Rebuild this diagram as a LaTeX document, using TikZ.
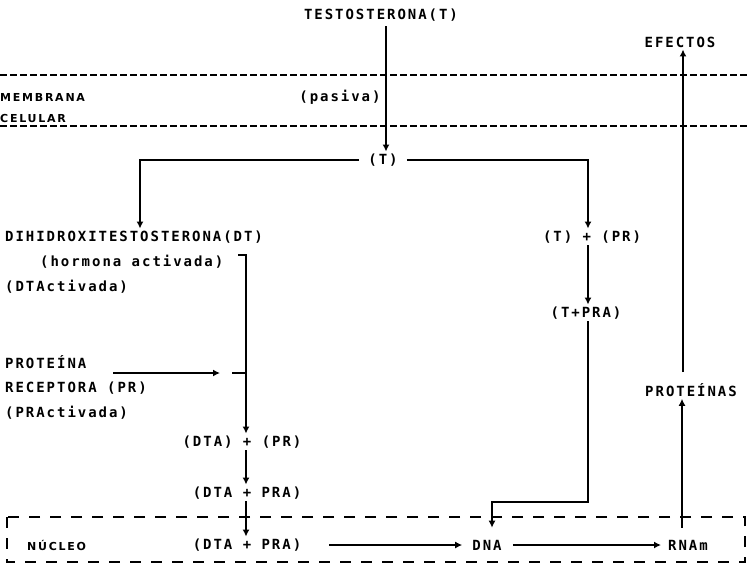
\documentclass[tikz,border=0pt]{standalone}
\usepackage{fontspec}
\usetikzlibrary{arrows.meta}
\newfontfamily\dmono[LetterSpace=14, UprightFont=* Bold, BoldFont=* Bold]{DejaVu Sans Mono}
\newfontfamily\dsmall[LetterSpace=16, UprightFont=* Bold, BoldFont=* Bold]{DejaVu Sans}
\begin{document}
\begin{tikzpicture}[x=1pt,y=-1pt,
  txt/.style={font=\dmono\fontsize{14}{16}\selectfont, inner sep=2pt},
  sm/.style={font=\dsmall\fontsize{11}{13}\selectfont, inner sep=0pt, anchor=west},
  arr/.style={line width=1.8pt, -{Latex[length=7pt,width=7pt]}},
  ln/.style={line width=1.8pt},
  mem/.style={line width=1.6pt, dash pattern=on 7pt off 3pt},
  nucbox/.style={line width=1.5pt, dash pattern=on 11pt off 10pt}]
\useasboundingbox (0,0) rectangle (749,571);

% membrane
\draw[mem] (0,75) -- (749,75);
\draw[mem] (0,126) -- (749,126);
% nucleus box
\draw[nucbox] (7,517) rectangle (745,562);

% nodes
\node[txt] (t0) at (381,15) {TESTOSTERONA(T)};
\node[txt, inner xsep=9pt] (t1) at (383,160) {(T)};
\node[txt] (pas) at (340,97) {(pasiva)};
\node[sm] (mem) at (0,97) {MEMBRANA};
\node[sm] (cel) at (0,118) {CELULAR};
\node[txt] (efe) at (680,42) {EFECTOS};
\node[txt,anchor=west] (dt) at (3,237) {DIHIDROXITESTOSTERONA(DT)};
\node[txt,anchor=west] (ha) at (38,262) {(hormona activada)};
\node[txt,anchor=west] (dta) at (3,287) {(DTActivada)};
\node[txt] (tpr) at (592,237) {(T) + (PR)};
\node[txt] (tpra) at (586,313) {(T+PRA)};
\node[txt,anchor=west] (prot) at (3,362) {PROTEÍNA};
\node[txt,anchor=west] (rec) at (3,388) {RECEPTORA (PR)};
\node[txt,anchor=west] (pract) at (3,413) {(PRActivada)};
\node[txt] (dpr) at (242,442) {(DTA) + (PR)};
\node[txt] (dpra) at (247,493) {(DTA + PRA)};
\node[sm] (nuc) at (27,545) {NÚCLEO};
\node[txt] (ndpra) at (247,545) {(DTA + PRA)};
\node[txt] (dna) at (487,545) {DNA};
\node[txt] (rna) at (688,545) {RNAm};
\node[txt] (prots) at (691,390) {PROTEÍNAS};

% helper coordinates
\coordinate (ax) at (386,0);
\coordinate (cl) at (140,160);
\coordinate (cr) at (588,160);
\coordinate (vx) at (246,255);
\coordinate (bk) at (238,255);
\coordinate (pa) at (113,373);
\coordinate (pb) at (220,373);
\coordinate (ps) at (232,373);
\coordinate (cd) at (492,502);
\coordinate (tr) at (588,502);
\coordinate (px) at (682,0);
\coordinate (ex) at (683,0);

% connectors
\draw[arr, shorten <=3pt] (t0.south -| ax) -- (t1.north -| ax);
\draw[arr] (t1.west) -- (cl) -- (dt.north -| cl);
\draw[arr] (t1.east) -- (cr) -- (tpr.north -| cr);
\draw[arr] (tpr.south -| cr) -- (tpra.north -| cr);
\draw[arr, shorten >=10pt] (tpra.south -| cr) -- (tr) -- (cd) -- (dna.north -| cd);
\draw[arr] (bk) -- (vx) -- (dpr.north -| vx);
\draw[arr] (pa) -- (pb);
\draw[ln] (ps) -- (ps -| vx);
\draw[arr] (dpr.south -| vx) -- (dpra.north -| vx);
\draw[arr] (dpra.south -| vx) -- (ndpra.north -| vx);
\draw[arr, shorten <=26pt, shorten >=8pt] (ndpra.east) -- (dna.west);
\draw[arr, shorten <=9pt, shorten >=5pt] (dna.east) -- (rna.west);
\draw[arr, shorten <=10pt] (rna.north -| px) -- (prots.south -| px);
\draw[arr, shorten <=9pt] (prots.north -| ex) -- (efe.south -| ex);
\end{tikzpicture}
\end{document}
